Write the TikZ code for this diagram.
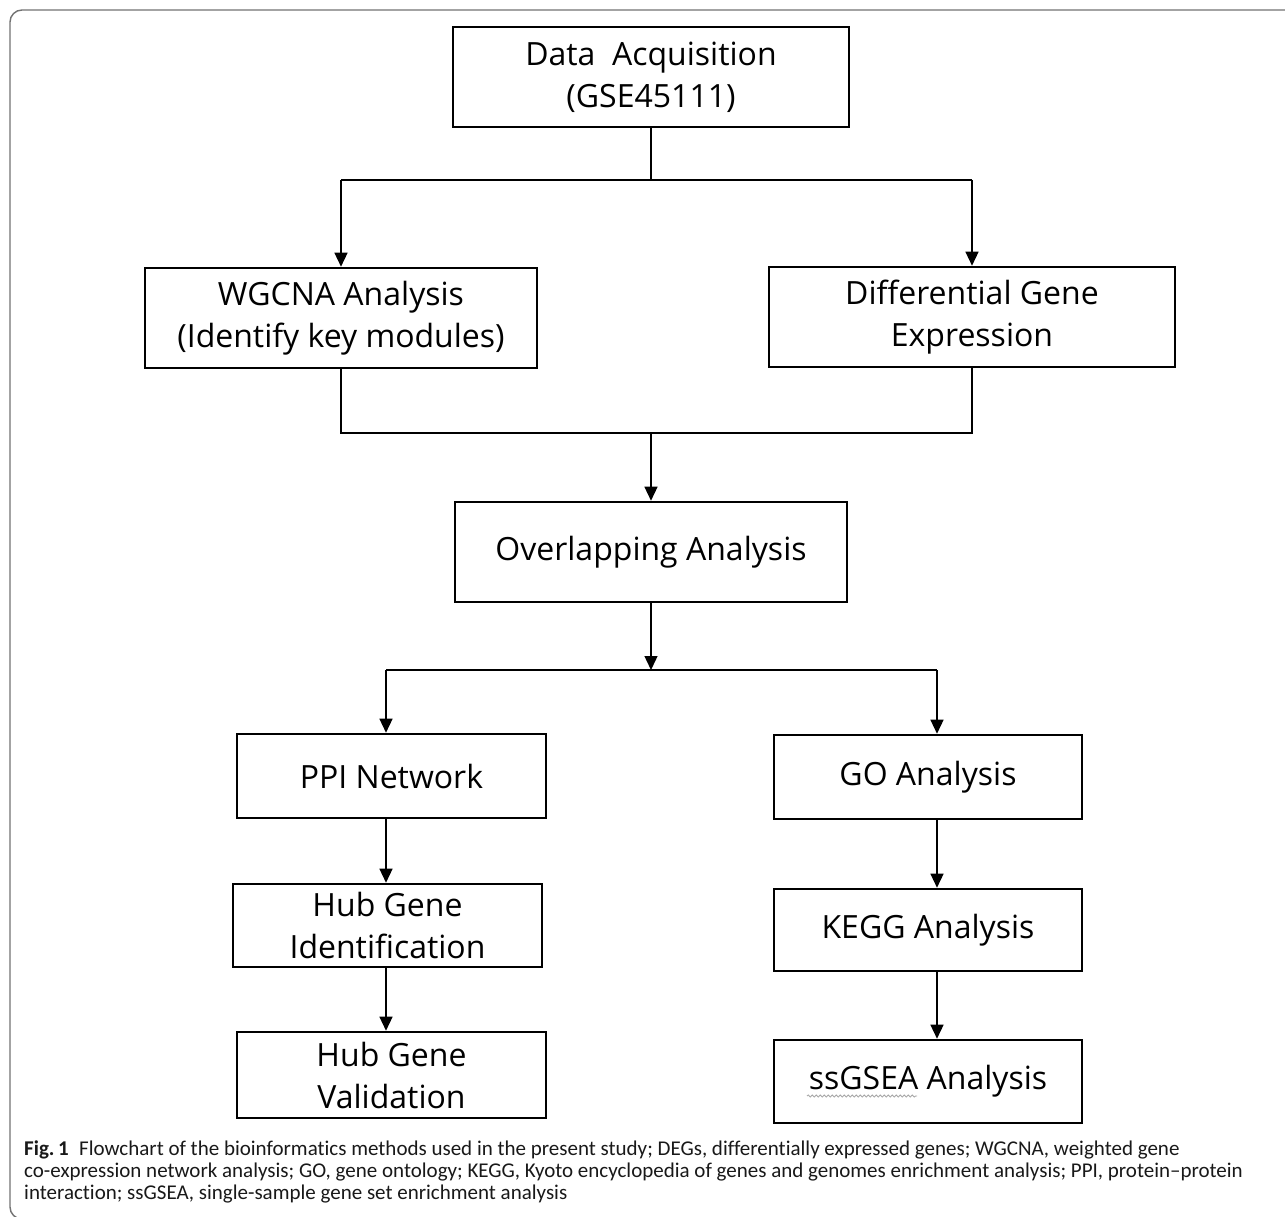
\documentclass[tikz,border=0pt]{standalone}
\usepackage{fontspec}
\setmainfont{Open Sans}
\newfontfamily\capfont[Ligatures=NoCommon]{Carlito}
\usetikzlibrary{arrows.meta,decorations.pathmorphing}
\begin{document}
\begin{tikzpicture}[x=1pt,y=-1pt,
  box/.style={draw=black, line width=2.6pt, fill=white, inner sep=0pt, align=center,
    font=\fontsize{32}{42}\selectfont, text=black},
  conn/.style={line width=1.4pt, draw=black},
  arr/.style={conn, -{Triangle[length=14pt,width=13pt]}},
  captxt/.style={anchor=base west, inner sep=0pt, text=black!90,
    font=\capfont\fontsize{21}{22}\selectfont}]
\useasboundingbox (0,0) rectangle (1285,1217);
\fill[white] (0,0) rectangle (1285,1217);
\draw[line width=1.4pt, black!55, rounded corners=12pt] (1295,10) -- (10,10) -- (10,1219) -- (40,1219);

% boxes
\node[box, minimum width=396pt, minimum height=100pt] (data) at (651,77) {Data\ \ Acquisition\\(GSE45111)};
\node[box, minimum width=392pt, minimum height=100pt] (wgcna) at (341,318) {WGCNA Analysis\\(Identify key modules)};
\node[box, minimum width=406pt, minimum height=100pt] (diff) at (972,317) {Differential Gene\\Expression};
\node[box, minimum width=392pt, minimum height=100pt] (over) at (651,552) {Overlapping Analysis};
\node[box, minimum width=309pt, minimum height=84pt] (ppi) at (391.5,776) {PPI Network};
\node[box, minimum width=308pt, minimum height=84pt] (go) at (928,777) {GO Analysis};
\node[box, minimum width=309pt, minimum height=83pt] (hubid) at (387.5,925.5) {Hub Gene\\Identification};
\node[box, minimum width=309pt, minimum height=86pt] (hubval) at (391.5,1075) {Hub Gene\\Validation};
\node[box, minimum width=308pt, minimum height=82pt] (kegg) at (928,930) {KEGG Analysis};
\node[box, minimum width=308pt, minimum height=83pt] (ssgsea) at (928,1081.5) {ssGSEA Analysis};

% first split
\coordinate (t1) at (651,180);
\coordinate (t1l) at (341,180);
\coordinate (t1r) at (972,180);
\draw[conn] (data.south) -- (t1);
\draw[conn] (t1l) -- (t1r);
\draw[arr] (t1l) -- (t1l |- wgcna.north);
\draw[arr] (t1r) -- (t1r |- diff.north);

% merge
\coordinate (m1) at (651,433);
\coordinate (m1l) at (341,433);
\coordinate (m1r) at (972,433);
\draw[conn] (m1l |- wgcna.south) -- (m1l) -- (m1r) -- (m1r |- diff.south);
\draw[arr] (m1) -- (m1 |- over.north);

% second split
\coordinate (t2) at (651,670);
\coordinate (t2l) at (386,670);
\coordinate (t2r) at (937,670);
\draw[arr] (t2 |- over.south) -- (t2);
\draw[conn] (t2l) -- (t2r);
\draw[arr] (t2l) -- (t2l |- ppi.north);
\draw[arr] (t2r) -- (t2r |- go.north);

% columns
\draw[arr] (t2l |- ppi.south) -- (t2l |- hubid.north);
\draw[arr] (t2l |- hubid.south) -- (t2l |- hubval.north);
\draw[arr] (t2r |- go.south) -- (t2r |- kegg.north);
\draw[arr] (t2r |- kegg.south) -- (t2r |- ssgsea.north);

% spell-check squiggle under ssGSEA
\draw[black!35, line width=0.8pt, decorate, decoration={snake, amplitude=1.1pt, segment length=4pt}] (807,1096) -- (917,1096);

% caption
\node[captxt] (cap1) at (24,1155) {\textbf{Fig.\,1}\enspace Flowchart of the bioinformatics methods used in the present study; DEGs, differentially expressed genes; WGCNA, weighted gene};
\node[captxt] (cap2) at (24,1177) {co-expression network analysis; GO, gene ontology; KEGG, Kyoto encyclopedia of genes and genomes enrichment analysis; PPI, protein–protein};
\node[captxt] (cap3) at (24,1199) {interaction; ssGSEA, single-sample gene set enrichment analysis};
\end{tikzpicture}
\end{document}
